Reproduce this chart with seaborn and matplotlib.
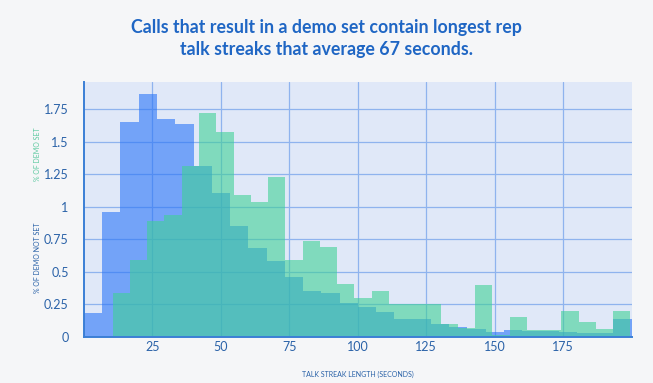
import matplotlib
matplotlib.use("Agg")
import matplotlib.pyplot as plt
import numpy as np
import pandas as pd
import seaborn as sns

TITLE = "Calls that result in a demo set contain longest rep\ntalk streaks that average 67 seconds."
X_LABEL = "TALK STREAK LENGTH (SECONDS)"
Y_LABEL_SET = "% OF DEMO SET"
Y_LABEL_NOT_SET = "% OF DEMO NOT SET"

# % of calls where no demo was set, 30 bins over 0-200 s
not_set_start = 0.0
not_set_width = 200 / 30
not_set_pct = [0.18, 0.96, 1.65, 1.87, 1.675, 1.64, 1.31, 1.107, 0.853, 0.684,
               0.58, 0.456, 0.354, 0.34, 0.256, 0.225, 0.187, 0.136, 0.14, 0.097,
               0.077, 0.059, 0.035, 0.05, 0.045, 0.045, 0.038, 0.03, 0.026, 0.136]

# % of calls where a demo was set, 30 bins starting at 10.5 s
set_start = 10.5
set_width = 6.3
set_pct = [0.34, 0.59, 0.89, 0.935, 1.31, 1.72, 1.576, 1.09, 1.04, 1.23,
           0.594, 0.74, 0.69, 0.405, 0.30, 0.354, 0.25, 0.25, 0.25, 0.10,
           0.065, 0.40, 0.01, 0.154, 0.05, 0.05, 0.20, 0.11, 0.056, 0.197]

x_ticks = [25, 50, 75, 100, 125, 150, 175]
y_ticks = [0, 0.25, 0.5, 0.75, 1, 1.25, 1.5, 1.75]
y_tick_labels = ["0", "0.25", "0.5", "0.75", "1", "1.25", "1.5", "1.75"]

BLUE = "#2a75f8"
GREEN = "#40d197"
TEXT = "#2a62a8"
TITLE_COLOR = "#1f66c4"


def draw_hist(ax, start, width, values, color):
    edges = start + width * np.arange(len(values) + 1)
    df = pd.DataFrame({"length": edges[:-1] + width / 2, "pct": values})
    sns.histplot(data=df, x="length", weights="pct", bins=list(edges), ax=ax,
                 color=color, alpha=0.6, edgecolor="none", linewidth=0)


def main():
    sns.set_theme(style="whitegrid")
    plt.rcParams["font.family"] = ["Lato", "DejaVu Sans"]

    fig = plt.figure(figsize=(6.53, 3.83), dpi=100, facecolor="#f5f6f8")
    ax = fig.add_axes([0.1286, 0.1209, 0.8388, 0.665])
    ax.set_facecolor("#e0e8f8")

    draw_hist(ax, not_set_start, not_set_width, not_set_pct, BLUE)
    draw_hist(ax, set_start, set_width, set_pct, GREEN)

    ax.set_xlim(0, 200)
    ax.set_ylim(0, 1.96)
    ax.set_xticks(x_ticks)
    ax.set_yticks(y_ticks)
    ax.set_yticklabels(y_tick_labels)
    ax.grid(True, color="#8fb3ee", linewidth=0.9)
    ax.set_axisbelow(True)
    ax.tick_params(axis="both", length=0, labelsize=9, labelcolor=TEXT)
    ax.tick_params(axis="y", pad=11)
    ax.tick_params(axis="x", pad=3)

    for side in ["top", "right"]:
        ax.spines[side].set_visible(False)
    for side in ["left", "bottom"]:
        ax.spines[side].set_color("#3b7fd6")
        ax.spines[side].set_linewidth(1.4)

    ax.set_xlabel(X_LABEL, fontsize=5, color=TEXT, labelpad=13)
    ax.set_ylabel("")
    fig.text(0.057, 1 - 154 / 383, Y_LABEL_SET, rotation=90, fontsize=5,
             color="#5cc9a0", ha="center", va="center")
    fig.text(0.058, 1 - 258 / 383, Y_LABEL_NOT_SET, rotation=90, fontsize=5,
             color=TEXT, ha="center", va="center")

    fig.text(0.5, 1 - 38.5 / 383, TITLE, ha="center", va="center", fontsize=12.8,
             fontweight="bold", color=TITLE_COLOR, linespacing=1.3)

    fig.savefig("out.png", dpi=100, facecolor=fig.get_facecolor())


if __name__ == "__main__":
    main()
